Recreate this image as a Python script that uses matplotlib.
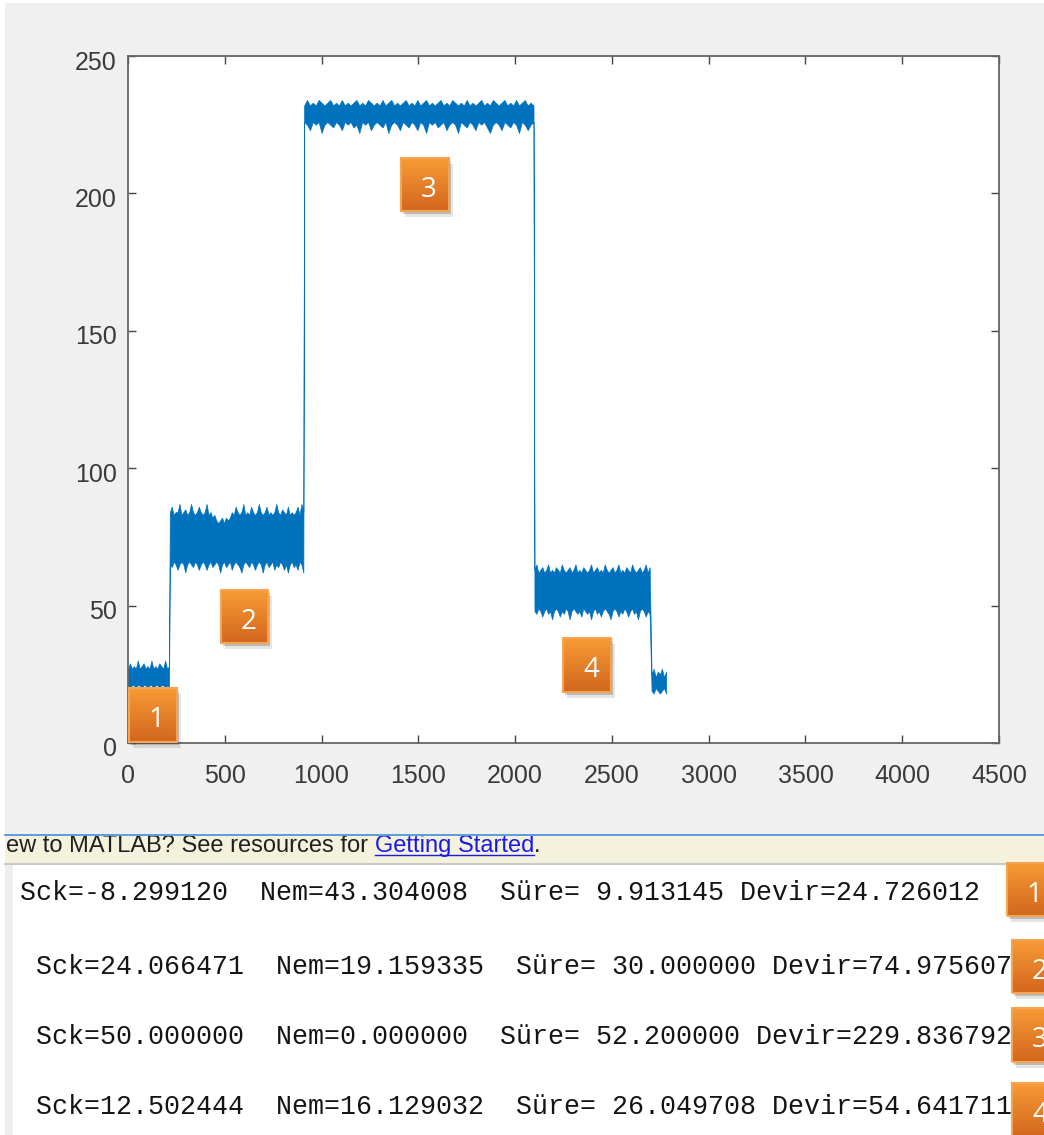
import numpy as np
import matplotlib.pyplot as plt
import matplotlib.transforms as mtransforms
from matplotlib.patches import Rectangle
from matplotlib.lines import Line2D
from matplotlib.colors import LinearSegmentedColormap

W, H = 1044, 1135

# signal: start/end of each plateau and its upper / lower envelope
seg_bounds = [(0, 212), (216, 906), (910, 2095), (2100, 2695), (2705, 2780)]
seg_upper = [
    [27, 29, 27, 28, 27, 30, 27, 28, 29, 27, 28, 27, 30, 27, 28, 27, 29, 28, 27, 30, 27, 28],
    [84, 86, 83, 84, 84, 87, 83, 84, 85, 83,
     84, 87, 84, 83, 84, 86, 84, 83, 84, 87,
     83, 84, 82, 83, 81, 80, 81, 82, 80, 82,
     81, 82, 84, 83, 86, 84, 83, 84, 87, 83,
     84, 83, 86, 84, 83, 84, 87, 84, 83, 84,
     86, 83, 84, 83, 84, 87, 84, 83, 85, 84,
     83, 86, 83, 84, 83, 84, 86, 83, 87, 84],
    [232, 234, 232, 233, 232, 234, 233, 232, 233, 234,
     232, 233, 232, 234, 232, 233, 232, 233, 234, 232,
     233, 232, 234, 233, 232, 233, 232, 234, 232, 233,
     234, 232, 233, 232, 233, 234, 232, 233, 232, 234,
     232, 233, 234, 232, 233, 232, 233, 234, 232, 233,
     232, 234, 233, 232, 233, 232, 234, 232, 233, 232,
     233, 234, 232, 233, 232, 234, 233, 232, 233, 234,
     232, 233, 232, 234, 232, 233, 234, 232, 233, 232],
    [63, 65, 62, 63, 64, 62, 63, 65, 62, 63,
     62, 64, 63, 62, 65, 63, 62, 63, 64, 62,
     63, 65, 62, 63, 62, 64, 63, 62, 63, 65,
     62, 63, 64, 62, 63, 62, 65, 63, 62, 63,
     64, 62, 63, 65, 62, 63, 62, 64, 63, 62,
     65, 63, 62, 63, 64, 62, 63, 65, 62, 64],
    [25, 27, 24, 26, 25, 27, 24, 26],
]
seg_lower = [
    [21, 20, 21, 21, 20, 21, 21, 20, 21, 21, 20, 21, 21, 20, 21, 21, 20, 21, 21, 20, 21, 20],
    [65, 64, 66, 65, 63, 65, 66, 65, 62, 65,
     66, 65, 64, 66, 65, 63, 65, 66, 65, 63,
     65, 66, 64, 65, 66, 65, 62, 65, 66, 64,
     65, 66, 63, 65, 66, 65, 64, 62, 65, 66,
     65, 64, 66, 65, 63, 65, 66, 65, 62, 65,
     66, 64, 65, 66, 63, 65, 64, 66, 65, 63,
     65, 62, 65, 66, 64, 65, 63, 66, 65, 62],
    [226, 225, 223, 226, 225, 226, 222, 225, 226, 225,
     224, 226, 225, 223, 226, 225, 226, 224, 225, 222,
     226, 225, 226, 223, 225, 226, 225, 224, 226, 222,
     225, 226, 225, 223, 226, 225, 224, 226, 225, 223,
     226, 225, 222, 226, 225, 226, 224, 225, 226, 223,
     225, 226, 225, 222, 226, 225, 224, 226, 225, 223,
     226, 225, 226, 224, 222, 225, 226, 225, 223, 226,
     225, 224, 226, 225, 222, 226, 225, 223, 225, 226],
    [48, 47, 49, 48, 46, 48, 49, 47, 48, 45,
     48, 49, 48, 46, 48, 47, 49, 48, 45, 48,
     49, 48, 47, 48, 46, 49, 48, 47, 48, 45,
     48, 49, 47, 48, 46, 48, 49, 48, 47, 45,
     48, 49, 48, 46, 48, 47, 49, 48, 46, 48,
     49, 47, 48, 45, 48, 49, 48, 46, 48, 47],
    [19, 18, 20, 19, 18, 19, 20, 18],
]

x_ticks = list(range(0, 4501, 500))
y_ticks = list(range(0, 251, 50))

# command window output
sck = [-8.299120, 24.066471, 50.000000, 12.502444]
nem = [43.304008, 19.159335, 0.000000, 16.129032]
sure = [9.913145, 30.000000, 52.200000, 26.049708]
devir = [24.726012, 74.975607, 229.836792, 54.641711]
line_prefix = ["", " ", " ", " "]
box_labels = ["1", "2", "3", "4"]

blue = '#0072BD'


def fx(px):
    return px / W


def fy(py):
    return 1 - py / H


def rect_px(x0, y0, x1, y1, **kw):
    return Rectangle((fx(x0), fy(y1)), (x1 - x0) / W, (y1 - y0) / H,
                     transform=fig.transFigure, **kw)


fig = plt.figure(figsize=(W / 100, H / 100), dpi=100)
fig.patch.set_facecolor('white')

# matlab figure window background
fig.add_artist(rect_px(5, 3, W + 5, 834, facecolor='#f0f0f0', edgecolor='none', zorder=-10))

ax = fig.add_axes([fx(128), fy(743), (999 - 128) / W, (743 - 56) / H])
ax.set_facecolor('white')

xs, ups, los = [], [], []
for (a, b), up, lo in zip(seg_bounds, seg_upper, seg_lower):
    xs.append(np.linspace(a, b, len(up)))
    ups.append(up)
    los.append(lo)
xs = np.concatenate(xs)
ups = np.concatenate(ups)
los = np.concatenate(los)
ax.fill_between(xs, los, ups, facecolor=blue, edgecolor=blue, lw=0.5)

ax.set_xlim(0, 4500)
ax.set_ylim(0, 250)
ax.set_xticks(x_ticks)
ax.set_yticks(y_ticks)
ax.tick_params(direction='in', top=True, right=True, length=6, width=1,
               color='#444444', labelsize=18, labelcolor='#3a3a3a')
ax.tick_params(axis='x', pad=15)
ax.tick_params(axis='y', pad=8)
for lab in ax.get_xticklabels() + ax.get_yticklabels():
    lab.set_family('Liberation Sans')
shift = mtransforms.ScaledTranslation(0, -0.04, fig.dpi_scale_trans)
for lab in ax.get_yticklabels():
    lab.set_transform(lab.get_transform() + shift)
for sp in ax.spines.values():
    sp.set_color('#666666')
    sp.set_linewidth(1.3)

# yellow info bar of the command window (top of its text is hidden)
fig.add_artist(rect_px(5, 834, W + 5, 863, facecolor='#f4f2dc', edgecolor='none', zorder=-9))
bar_fs = 17
t1 = fig.text(fx(6), fy(852), "ew to MATLAB? See resources for ", fontsize=bar_fs,
              family='Liberation Sans', color='#202020', va='baseline', zorder=-8)
r = fig.canvas.get_renderer()
bb = t1.get_window_extent(r)
t2 = fig.text(bb.x1 / W, fy(852), "Getting Started", fontsize=bar_fs,
              family='Liberation Sans', color='#1a1aee', va='baseline', zorder=-8)
bb2 = t2.get_window_extent(r)
fig.text(bb2.x1 / W, fy(852), ".", fontsize=bar_fs, family='Liberation Sans',
         color='#202020', va='baseline', zorder=-8)
fig.add_artist(Line2D([bb2.x0 / W, bb2.x1 / W], [fy(855), fy(855)], color='#1a1aee',
                      lw=1, transform=fig.transFigure, zorder=-8))
fig.add_artist(rect_px(5, 790, W + 5, 836, facecolor='#f0f0f0', edgecolor='none', zorder=-7))
fig.add_artist(Line2D([fx(5), 1], [fy(835), fy(835)], color='#3f8fdc', lw=1.2,
                      transform=fig.transFigure, zorder=-6))
fig.add_artist(Line2D([fx(5), 1], [fy(864), fy(864)], color='#c9c9c9', lw=1.5,
                      transform=fig.transFigure, zorder=-6))
fig.add_artist(rect_px(5, 865, 13, H + 2, facecolor='#eeeeee', edgecolor='none', zorder=-6))

# printed lines
line_y = [893, 967, 1037, 1107]
for i in range(len(sck)):
    s = line_prefix[i] + "Sck=%f  Nem=%f  Süre= %f Devir=%f" % (sck[i], nem[i], sure[i], devir[i])
    fig.text(fx(20), fy(line_y[i]), s, family='Liberation Mono', fontsize=19.2,
             color='#141414', va='center', ha='left', zorder=1)

# orange callout boxes
grad_cmap = LinearSegmentedColormap.from_list('og', ['#f89a36', '#d2671d'])
grad = np.linspace(0, 1, 64).reshape(-1, 1)


def callout(x0, y0, x1, y1, label):
    for dx, dy, al in [(2, 3, 0.18), (4, 6, 0.10)]:
        fig.add_artist(rect_px(x0 + dx, y0 + dy, x1 + dx, y1 + dy, facecolor='black',
                               edgecolor='none', alpha=al, zorder=4))
    bax = fig.add_axes([fx(x0), fy(y1), (x1 - x0) / W, (y1 - y0) / H], zorder=5)
    bax.imshow(grad, aspect='auto', cmap=grad_cmap, extent=[0, 1, 0, 1])
    bax.set_xlim(0, 1)
    bax.set_ylim(0, 1)
    bax.set_axis_off()
    bax.add_patch(Rectangle((0, 0), 1, 1, transform=bax.transAxes, fill=False,
                            edgecolor='#f5a452', lw=1.5, clip_on=False))
    bax.text(0.58, 0.40, label, color='white', fontsize=20, family='Open Sans',
             ha='center', va='center')


chart_boxes = [(129, 688, 177, 742), (221, 590, 268, 643),
               (401, 158, 449, 211), (563, 638, 611, 692)]
side_boxes = [(1007, 863, 1055, 916), (1012, 940, 1060, 993),
              (1012, 1008, 1060, 1062), (1012, 1083, 1060, 1137)]
for pos, lab in zip(chart_boxes, box_labels):
    callout(*pos, lab)
for pos, lab in zip(side_boxes, box_labels):
    callout(*pos, lab)

fig.savefig('out.png', dpi=100, facecolor=fig.get_facecolor())
